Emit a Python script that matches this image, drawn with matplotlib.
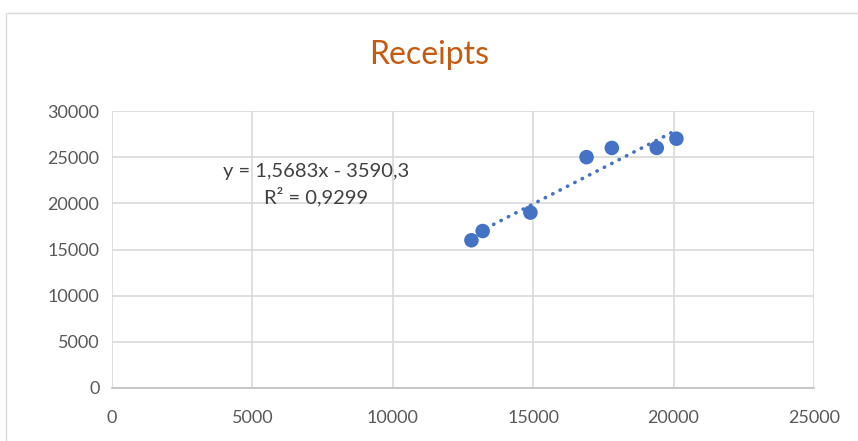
import matplotlib
matplotlib.use("Agg")
import matplotlib.pyplot as plt
import numpy as np
from matplotlib.patches import Rectangle

x_vals = [12800, 13200, 14900, 16900, 17800, 19400, 20100]
y_vals = [16000, 17000, 19000, 25000, 26000, 26000, 27000]
slope = 1.5683
intercept = -3590.3
eq_text = "y = 1,5683x - 3590,3"
r2_text = "R² = 0,9299"
title = "Receipts"
x_ticks = [0, 5000, 10000, 15000, 20000, 25000]
y_ticks = [0, 5000, 10000, 15000, 20000, 25000, 30000]

plt.rcParams['font.family'] = ['Lato', 'DejaVu Sans']

W, H = 858, 441
fig = plt.figure(figsize=(W/100, H/100), dpi=100)
fig.patches.append(Rectangle((6/W, -0.05), 1.2, 1 - 13/H + 0.05, transform=fig.transFigure,
                             fill=False, edgecolor='#D9D9D9', linewidth=1.0))
ax = fig.add_axes([112/W, 1-388/H, (814-112)/W, (388-111)/H])
ax.set_xlim(0, 25000)
ax.set_ylim(0, 30000)
ax.set_xticks(x_ticks)
ax.set_yticks(y_ticks)
ax.grid(True, color='#D9D9D9', linewidth=1.2)
ax.set_axisbelow(True)
for s in ['left', 'top', 'right']:
    ax.spines[s].set_visible(False)
ax.spines['bottom'].set_color('#BFBFBF')
ax.spines['bottom'].set_linewidth(1.2)
ax.tick_params(length=0, labelsize=13, labelcolor='#595959', pad=9)
ax.tick_params(axis='x', pad=16)

xs = np.array([min(x_vals), max(x_vals)])
ax.plot(xs, slope*xs + intercept, linestyle=(0, (0.1, 2.2)), dash_capstyle='round',
        color='#4472C4', linewidth=2.6, zorder=2)
ax.scatter(x_vals, y_vals, s=110, color='#4472C4', zorder=3, edgecolors='none')

ax.text(7280, 23500, eq_text, ha='center', va='center', fontsize=14.5, color='#404040')
ax.text(7280, 20750, r2_text, ha='center', va='center', fontsize=14.5, color='#404040')

fig.text(0.5, 1-55/H, title, ha='center', va='center', fontsize=23, color='#C55A11')

fig.savefig('out.png', dpi=100)
